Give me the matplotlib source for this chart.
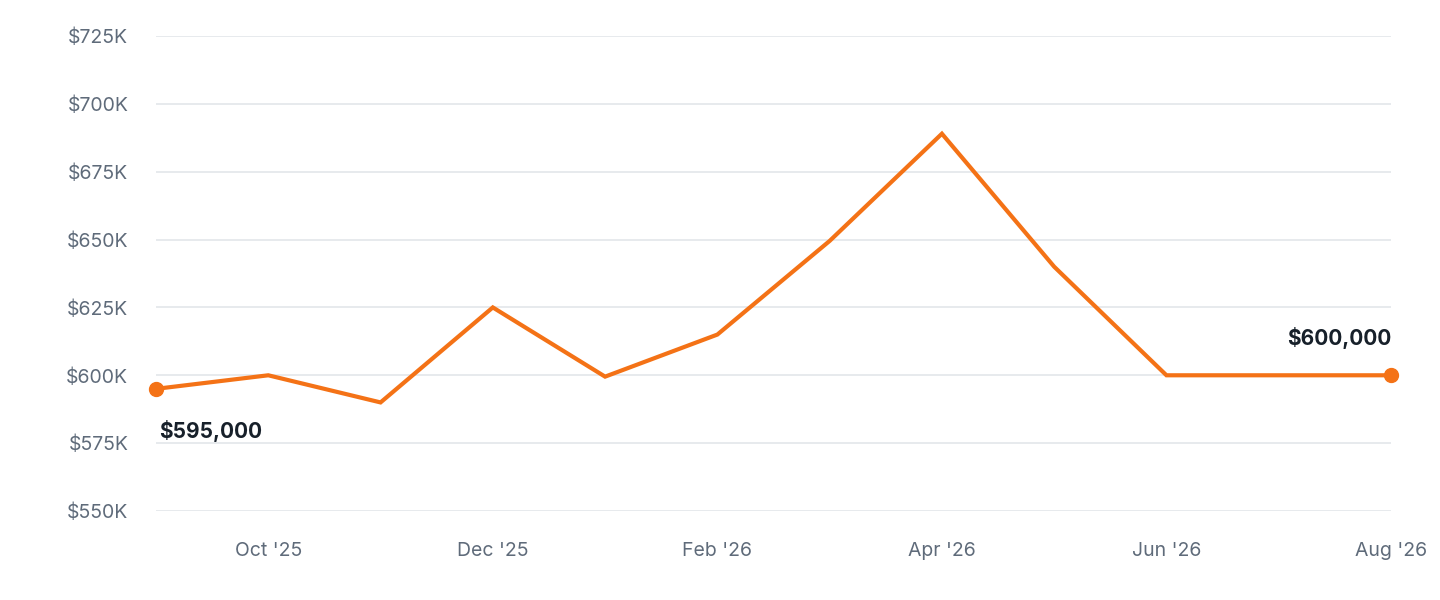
import matplotlib.pyplot as plt
from matplotlib.ticker import FuncFormatter

months = ["Sep '25", "Oct '25", "Nov '25", "Dec '25", "Jan '26", "Feb '26",
          "Mar '26", "Apr '26", "May '26", "Jun '26", "Jul '26", "Aug '26"]
prices = [595000, 600000, 590000, 625000, 599500, 615000,
          649500, 689000, 640000, 600000, 600000, 600000]
tick_idx = [1, 3, 5, 7, 9, 11]

ORANGE = '#f47216'
GREY = '#5f6b7a'

plt.rcParams['font.family'] = ['Inter', 'DejaVu Sans']

fig = plt.figure(figsize=(14.4, 6), dpi=100)
ax = fig.add_axes([156 / 1440, 1 - 511 / 600, (1391 - 156) / 1440, (511 - 36) / 600])

x = list(range(len(months)))
ax.plot(x, prices, color=ORANGE, lw=3, solid_joinstyle='miter', clip_on=False, zorder=3)
ax.plot([x[0], x[-1]], [prices[0], prices[-1]], 'o', color=ORANGE, ms=10, clip_on=False, zorder=4)

ax.annotate(f"${prices[0]:,.0f}", (x[0], prices[0]), xytext=(2, -30), textcoords='offset points',
            ha='left', va='center', fontsize=15, fontweight='bold', color='#17202a')
ax.annotate(f"${prices[-1]:,.0f}", (x[-1], prices[-1]), xytext=(0, 27), textcoords='offset points',
            ha='right', va='center', fontsize=15, fontweight='bold', color='#17202a')

ax.set_xlim(0, len(months) - 1)
ax.set_ylim(550000, 725000)
ax.set_yticks(range(550000, 725001, 25000))
ax.yaxis.set_major_formatter(FuncFormatter(lambda v, p: f"${v/1000:.0f}K"))
ax.set_xticks(tick_idx)
ax.set_xticklabels([months[i] for i in tick_idx])
ax.grid(axis='y', color='#e3e6ea', lw=1.2)
ax.set_axisbelow(True)
for s in ax.spines.values():
    s.set_visible(False)
ax.tick_params(length=0, labelsize=14, colors=GREY)
ax.tick_params(axis='y', pad=20)
ax.tick_params(axis='x', pad=22)

fig.savefig('out.png', dpi=100)
